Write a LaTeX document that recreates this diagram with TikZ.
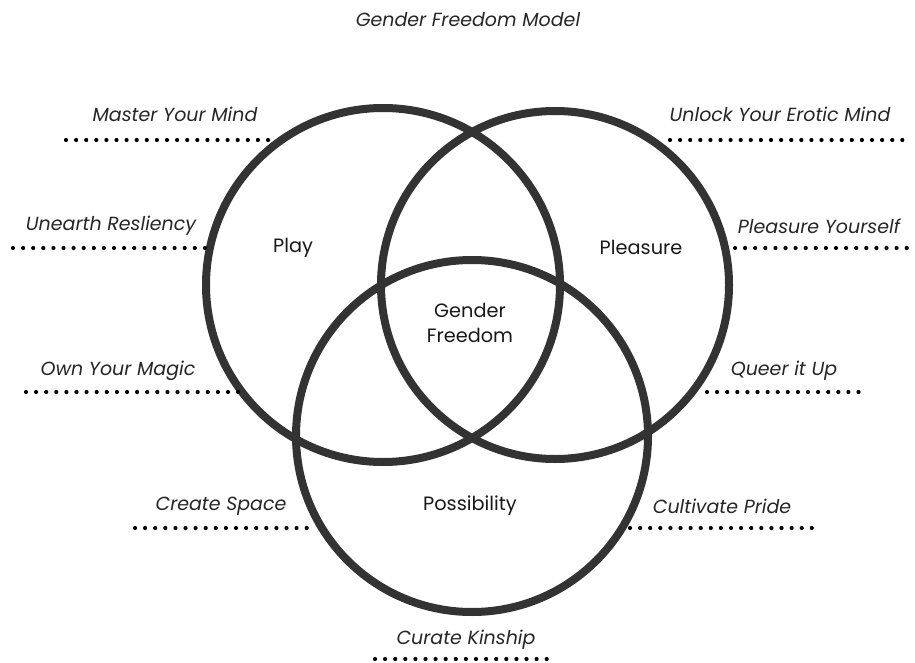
\documentclass[tikz,border=0pt]{standalone}
\usepackage{fontspec}
\setmainfont{Poppins}
\begin{document}
\begin{tikzpicture}[x=1pt,y=-1pt,
  ring/.style={draw=ringgray,line width=8pt},
  lbl/.style={font=\fontsize{19}{21}\selectfont\itshape,text=black!85,inner sep=0pt},
  inlbl/.style={font=\fontsize{19.3}{25}\selectfont,text=black!90,inner sep=0pt,align=center},
  dotline/.style={line width=4.2pt,line cap=round,dash pattern=on 0pt off 10.1pt,draw=black}]
\definecolor{ringgray}{HTML}{333333}
\useasboundingbox (0,0) rectangle (915,663);
\fill[white] (0,0) rectangle (915,663);
% circles
\draw[ring] (383,285) circle (177);
\draw[ring] (555,285) circle (174);
\draw[ring] (472,436) circle (176);
% title
\node[lbl] (title) at (468,20) {Gender Freedom Model};
% inner labels
\node[inlbl] (play) at (293,248) {Play};
\node[inlbl] (pleasure) at (641,247) {Pleasure};
\node[inlbl] (gf) at (470,323) {Gender\\Freedom};
\node[inlbl] (poss) at (470,506) {Possibility};
% outer labels
\node[lbl] (l1) at (175,114) {Master Your Mind};
\node[lbl] (l2) at (111,226) {Unearth Resliency};
\node[lbl] (l3) at (118,371) {Own Your Magic};
\node[lbl] (l4) at (221,506) {Create Space};
\node[lbl] (r1) at (780,114) {Unlock Your Erotic Mind};
\node[lbl] (r2) at (819,226) {Pleasure Yourself};
\node[lbl] (r3) at (784,371) {Queer it Up};
\node[lbl] (r4) at (722,506) {Cultivate Pride};
\node[lbl] (b1) at (466,640) {Curate Kinship};
% dotted lines
\coordinate (l1a) at (66,140); \coordinate (l1b) at (270,140);
\coordinate (l2a) at (13,248); \coordinate (l2b) at (205,248);
\coordinate (l3a) at (26,392); \coordinate (l3b) at (240,392);
\coordinate (l4a) at (135,528); \coordinate (l4b) at (308,528);
\coordinate (r1a) at (670,140); \coordinate (r1b) at (912,140);
\coordinate (r2a) at (735,248); \coordinate (r2b) at (912,248);
\coordinate (r3a) at (707,392); \coordinate (r3b) at (860,392);
\coordinate (r4a) at (630,528); \coordinate (r4b) at (813,528);
\coordinate (b1a) at (375,659); \coordinate (b1b) at (548,659);
\foreach \p in {l1,l2,l3,l4,r1,r2,r3,r4,b1}{
  \draw[dotline] (\p a) -- (\p b);
}
\end{tikzpicture}
\end{document}
